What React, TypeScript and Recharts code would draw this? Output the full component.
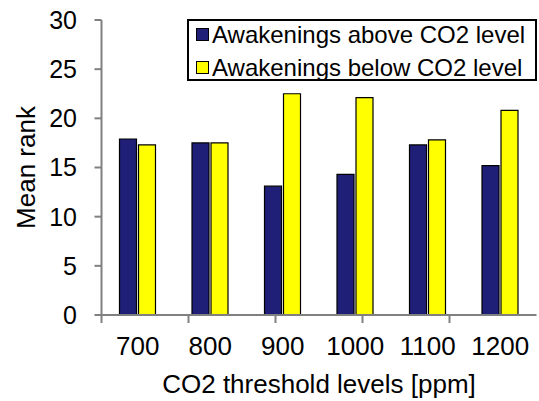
import React from 'react';
import { BarChart, Bar, XAxis, YAxis, Legend } from 'recharts';

const categories = ['700', '800', '900', '1000', '1100', '1200'];
const aboveValues = [17.9, 17.5, 13.1, 14.3, 17.3, 15.2];
const belowValues = [17.3, 17.5, 22.5, 22.1, 17.8, 20.8];
const yTicks = [0, 5, 10, 15, 20, 25, 30];
const boundaryTicks = [0, 1, 2, 3, 4, 5, 6];
const seriesNames = ['Awakenings above CO2 level', 'Awakenings below CO2 level'];
const xTitle = 'CO2 threshold levels [ppm]';
const yTitle = 'Mean rank';

const data = categories.map((c, i) => ({ cat: c, above: aboveValues[i], below: belowValues[i] }));

const FONT = '"Liberation Sans", Arial, sans-serif';
const NAVY = '#1F1F78';
const YELLOW = '#FFFF00';
const AXIS_GRAY = '#808080';

const LegendBox = (props: any) => {
  const payload = props.payload || [];
  return (
    <div
      style={{
        boxSizing: 'border-box',
        width: 350,
        height: 62,
        border: '2px solid #000',
        background: '#fff',
        fontFamily: FONT,
        fontSize: 24,
        color: '#000',
      }}
    >
      <div style={{ marginTop: -3 }}>
        {payload.map((e: any) => (
          <div key={e.value} style={{ display: 'flex', alignItems: 'center', height: 33, paddingLeft: 7, whiteSpace: 'nowrap' }}>
            <span
              style={{
                display: 'inline-block',
                boxSizing: 'border-box',
                width: 13,
                height: 13,
                background: e.color,
                border: '1.5px solid #000',
                marginRight: 3,
              }}
            />
            <span>{e.value}</span>
          </div>
        ))}
      </div>
    </div>
  );
};

const YTitle = (props: any) => {
  const vb = props.viewBox || { x: 0, y: 0, width: 0, height: 0 };
  const cx = vb.x + 26;
  const cy = vb.y + vb.height / 2;
  return (
    <text x={cx} y={cy} dy="0.36em" textAnchor="middle" transform={`rotate(-90, ${cx}, ${cy})`} fontFamily={FONT} fontSize={26} fill="#000">
      {yTitle}
    </text>
  );
};

const XTitle = (props: any) => {
  const vb = props.viewBox || { x: 0, y: 0, width: 0, height: 0 };
  const cx = vb.x + vb.width / 2;
  const y = vb.y + vb.height + 30;
  return (
    <text x={cx} y={y} textAnchor="middle" fontFamily={FONT} fontSize={26} fill="#000">
      {xTitle}
    </text>
  );
};

export default function App() {
  return (
    <div style={{ position: 'absolute', left: 0, top: 0, width: 539, height: 401, background: '#fff' }}>
      <BarChart
        width={539}
        height={401}
        data={data}
        margin={{ top: 20, right: 2.5, left: 0, bottom: 38 }}
        barSize={17}
        barGap={2}
      >
        <XAxis
          xAxisId="a"
          type="number"
          domain={[0, 6]}
          ticks={boundaryTicks}
          allowDataOverflow
          height={8}
          tickSize={8}
          tickFormatter={() => ''}
          axisLine={{ stroke: AXIS_GRAY, strokeWidth: 2 }}
          tickLine={{ stroke: AXIS_GRAY, strokeWidth: 2 }}
        />
        <XAxis
          xAxisId="b"
          dataKey="cat"
          height={40}
          tickSize={0}
          tickMargin={14}
          axisLine={false}
          tickLine={false}
          tick={{ fill: '#000', fontSize: 26, fontFamily: FONT }}
          interval={0}
          label={<XTitle />}
        />
        <XAxis
          xAxisId="top"
          dataKey="cat"
          orientation="top"
          height={0}
          tick={false}
          tickLine={false}
          axisLine={{ stroke: '#000', strokeWidth: 2 }}
        />
        <YAxis
          domain={[0, 30]}
          ticks={yTicks}
          width={101.5}
          tickSize={7}
          tickMargin={17.5}
          axisLine={{ stroke: AXIS_GRAY, strokeWidth: 2 }}
          tickLine={{ stroke: AXIS_GRAY, strokeWidth: 2 }}
          tick={{ fill: '#000', fontSize: 25, fontFamily: FONT }}
          label={<YTitle />}
        />
        <YAxis
          yAxisId="right"
          orientation="right"
          domain={[0, 30]}
          type="number"
          width={0}
          tick={false}
          tickLine={false}
          axisLine={{ stroke: '#000', strokeWidth: 2 }}
        />
        <Legend
          layout="horizontal"
          verticalAlign="middle"
          align="center"
          wrapperStyle={{ position: 'absolute', left: 187, top: 19, width: 350, height: 62 }}
          content={<LegendBox />}
        />
        <Bar xAxisId="b" dataKey="above" name={seriesNames[0]} fill={NAVY} stroke="#000" strokeWidth={1.2} isAnimationActive={false} />
        <Bar xAxisId="b" dataKey="below" name={seriesNames[1]} fill={YELLOW} stroke="#000" strokeWidth={1.2} isAnimationActive={false} />
      </BarChart>
    </div>
  );
}
